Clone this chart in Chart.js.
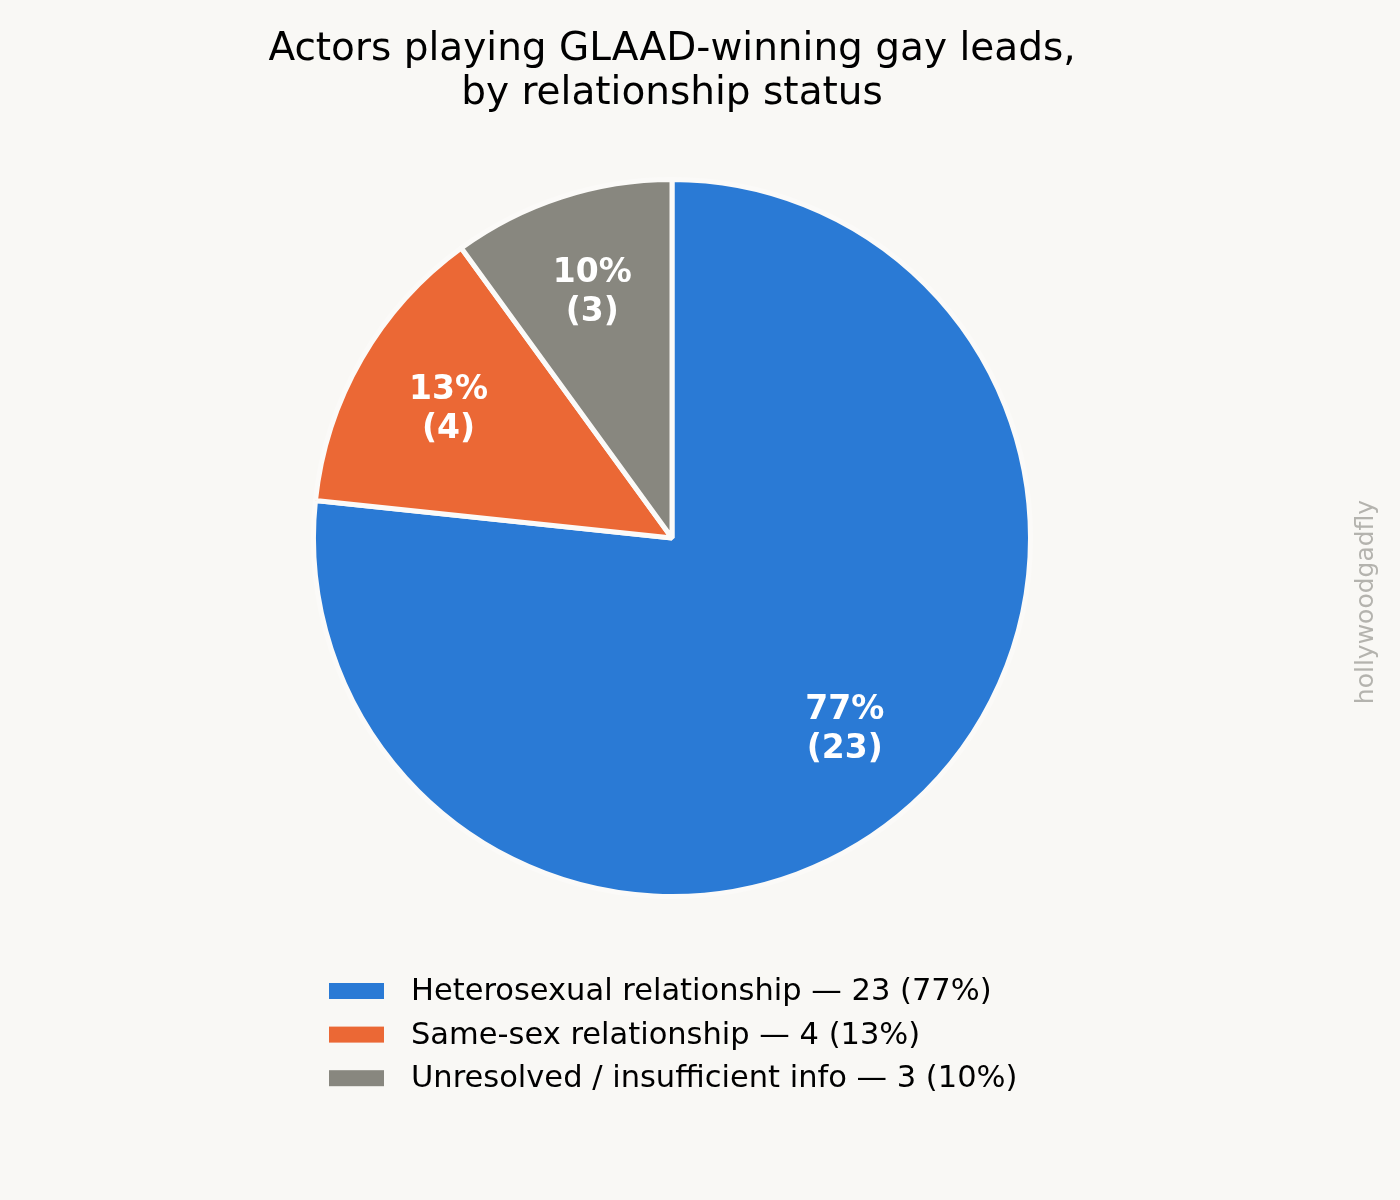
<!DOCTYPE html>
<html>
<head>
<meta charset="utf-8">
<script src="https://cdn.jsdelivr.net/npm/chart.js@4/dist/chart.umd.min.js"></script>
<style>
  html, body { margin: 0; padding: 0; background: #f9f8f5; }
  canvas { display: block; }
</style>
</head>
<body>
<canvas id="myChart" width="1400" height="1200"></canvas>
<script>
const categories = ["Heterosexual relationship", "Same-sex relationship", "Unresolved / insufficient info"];
const counts = [23, 4, 3];
const colors = ["#2a7ad5", "#eb6835", "#88877f"];
const titleLines = ["Actors playing GLAAD-winning gay leads,", "by relationship status"];

const total = counts.reduce((a, b) => a + b, 0);
const pct = (v) => Math.round(v / total * 100);

// slice labels, title, legend and watermark drawn on top of the pie
const extras = {
    id: "extras",
    afterDraw(chart) {
        const ctx = chart.ctx;
        ctx.save();

        // percentages inside slices
        const arcs = chart.getDatasetMeta(0).data;
        ctx.fillStyle = "#ffffff";
        ctx.font = "bold 33px 'DejaVu Sans'";
        ctx.textAlign = "center";
        ctx.textBaseline = "middle";
        arcs.forEach((arc, i) => {
            const p = arc.getProps(["x", "y", "startAngle", "endAngle", "outerRadius"], true);
            const mid = (p.startAngle + p.endAngle) / 2;
            const r = p.outerRadius * 0.72;
            const x = p.x + Math.cos(mid) * r;
            const y = p.y + Math.sin(mid) * r;
            ctx.fillText(pct(counts[i]) + "%", x, y - 19);
            ctx.fillText("(" + counts[i] + ")", x, y + 20);
        });

        // title
        ctx.fillStyle = "#000000";
        ctx.font = "39px 'DejaVu Sans'";
        ctx.textBaseline = "alphabetic";
        ctx.fillText(titleLines[0], 672, 60);
        ctx.fillText(titleLines[1], 672, 104);

        // legend
        ctx.textAlign = "left";
        ctx.font = "30.5px 'DejaVu Sans'";
        categories.forEach((c, i) => {
            const y = 991 + i * 43.6;
            ctx.fillStyle = colors[i];
            ctx.fillRect(329, y - 8, 55, 16);
            ctx.fillStyle = "#000000";
            ctx.textBaseline = "middle";
            ctx.fillText(c + " — " + counts[i] + " (" + pct(counts[i]) + "%)", 411, y + 1);
        });

        // watermark
        ctx.translate(1366, 602);
        ctx.rotate(-Math.PI / 2);
        ctx.textAlign = "center";
        ctx.textBaseline = "middle";
        ctx.fillStyle = "#b4b3ae";
        ctx.font = "25px 'DejaVu Sans'";
        ctx.fillText("hollywoodgadfly", 0, 0);
        ctx.restore();
    }
};

const myChart = new Chart(document.getElementById("myChart").getContext("2d"), {
    type: "pie",
    data: {
        labels: categories,
        datasets: [
            {
                data: counts,
                backgroundColor: colors,
                borderColor: "#fbfaf8",
                borderWidth: 5,
            },
        ],
    },
    options: {
        responsive: false,
        animation: false,
        layout: {
            padding: { left: 311, right: 367, top: 177, bottom: 301 },
        },
        plugins: {
            legend: { display: false },
            title: { display: false },
            tooltip: { enabled: false },
        },
    },
    plugins: [extras],
});
</script>
</body>
</html>
